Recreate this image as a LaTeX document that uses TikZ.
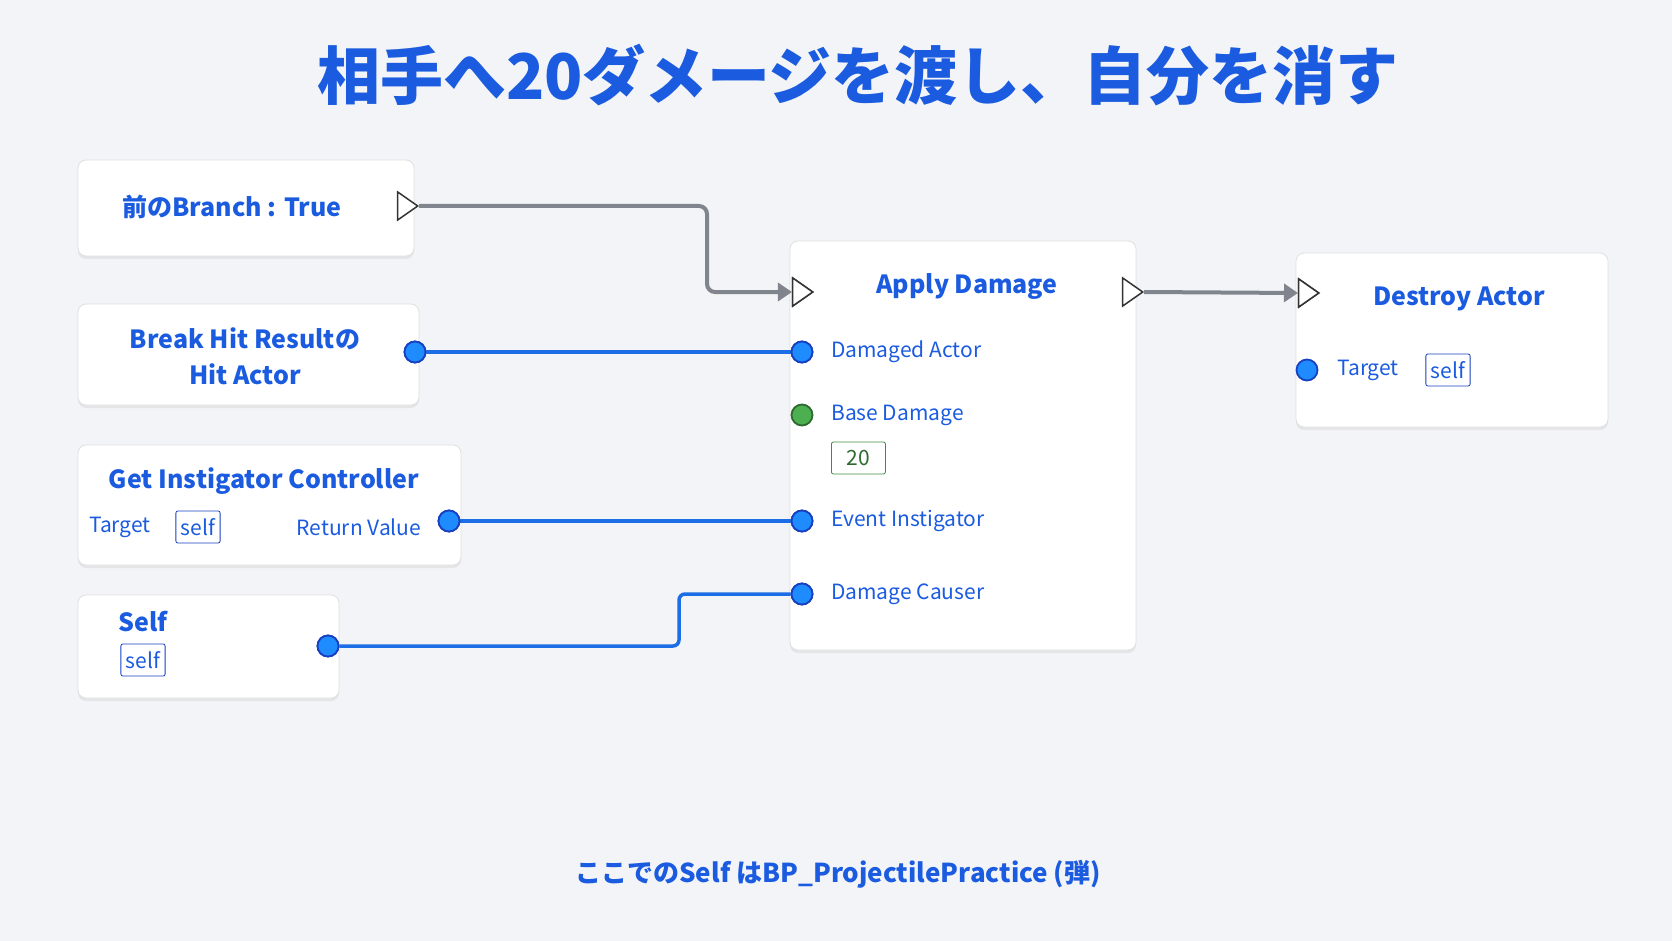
\documentclass[tikz,border=0pt]{standalone}
\usepackage{fontspec}
\setmainfont{Noto Sans CJK JP}
\usetikzlibrary{arrows.meta,shapes.geometric,shadows,backgrounds}
\definecolor{bptext}{HTML}{1A5BE0}
\definecolor{pinblue}{HTML}{1E8CFF}
\definecolor{pinedge}{HTML}{1840C0}
\definecolor{pingreen}{HTML}{4CAF50}
\definecolor{wiregray}{HTML}{80848C}
\definecolor{bgcol}{HTML}{F3F4F7}
\begin{document}
\begin{tikzpicture}[x=1pt,y=-1pt]
\tikzstyle{bpnode} = [draw=black!12, fill=white, rounded corners=8pt, thick,
drop shadow={shadow xshift=0pt, shadow yshift=-3pt, opacity=0.12}]
\tikzstyle{label} = [text=bptext, font=\fontsize{21}{22}\selectfont, inner sep=0pt]
\tikzstyle{heading} = [text=bptext, font=\fontsize{25}{36}\selectfont\bfseries, inner sep=0pt, align=center]
\tikzstyle{pin} = [circle, draw=pinedge, fill=pinblue, line width=1.8pt, minimum size=21pt, inner sep=0pt]
\tikzstyle{exec} = [isosceles triangle, isosceles triangle apex angle=70, draw=black!80, fill=white,
line width=1.5pt, minimum height=20pt, minimum width=24pt, inner sep=0pt]
\tikzstyle{literal} = [draw=pinedge, rounded corners=2pt, thick, text=bptext,
font=\fontsize{21}{22}\selectfont, minimum height=32pt, inner sep=5pt]
\tikzstyle{wire} = [draw=pinblue!60!pinedge, line width=3.5pt, rounded corners=6pt]
\tikzstyle{flow} = [draw=wiregray, line width=4pt, rounded corners=8pt, -{Triangle[length=14pt,width=18pt]}]
\fill[bgcol] (0,0) rectangle (1672,941);
\useasboundingbox (0,0) rectangle (1672,941);
% title
\node[text=bptext, font=\fontsize{63}{63}\selectfont\bfseries] (title) at (858,75) {相手へ20ダメージを渡し、自分を消す};
% left side nodes
\path[bpnode] (78,160) rectangle (414,256);
\node[heading] (branch) at (232,207) {前のBranch : True};
\node[exec] (branchout) at (405,206) {};
\path[bpnode] (78,304) rectangle (419,405);
\node[heading] (hit) at (245,356) {Break Hit Resultの\\Hit Actor};
\node[pin] (hitpin) at (415,352) {};
\path[bpnode] (78,445) rectangle (461,565);
\node[heading] (instig) at (264,481) {Get Instigator Controller};
\node[label] (instigtarget) at (120,527) {Target};
\node[literal] (instigself) at (198,527) {self};
\node[label] (instigret) at (359,527) {Return Value};
\node[pin] (instigpin) at (449,521) {};
\path[bpnode] (78,595) rectangle (339,698);
\node[heading] (self) at (143,622) {Self};
\node[literal] (selfval) at (143,660) {self};
\node[pin] (selfpin) at (328,646) {};
% apply damage
\path[bpnode] (790,241) rectangle (1136,650);
\node[heading] (apply) at (967,287) {Apply Damage};
\node[exec] (applyin) at (800,292) {};
\node[exec] (applyout) at (1130,292) {};
\node[pin] (damaged) at (802,352) {};
\node[label, anchor=west] at (831,352) {Damaged Actor};
\node[pin, fill=pingreen, draw=pingreen!60!black] (base) at (802,415) {};
\node[label, anchor=west] at (831,415) {Base Damage};
\node[literal, draw=pingreen!80!black, text=pingreen!60!black, anchor=west, minimum width=54pt] (basevalue) at (831,458) {20};
\node[pin] (event) at (802,521) {};
\node[label, anchor=west] at (831,521) {Event Instigator};
\node[pin] (causer) at (802,594) {};
\node[label, anchor=west] at (831,594) {Damage Causer};
% destroy actor
\path[bpnode] (1296,253) rectangle (1608,427);
\node[heading] (destroy) at (1459,299) {Destroy Actor};
\node[exec] (destroyin) at (1306,293) {};
\node[pin] (destroytarget) at (1307,370) {};
\node[label] at (1368,370) {Target};
\node[literal] (destroyself) at (1448,370) {self};
% connectors
\path[flow] (branchout.east) -| (707,250) |- (applyin.west);
\path[flow] (applyout.east) -- (destroyin.west);
\path[wire] (hitpin) -- (damaged);
\path[wire] (instigpin) -- (event);
\path[wire] (selfpin) -| (679,620) |- (causer);
\foreach \p in {hitpin,instigpin,selfpin,damaged,event,causer}
  \node[pin] at (\p) {};
\foreach \p in {applyin,destroyin}
  \node[exec] at (\p) {};
% footer
\node[text=bptext, font=\fontsize{26}{26}\selectfont\bfseries] (note) at (838,874) {ここでのSelf はBP\_ProjectilePractice (弾)};
\end{tikzpicture}
\end{document}
